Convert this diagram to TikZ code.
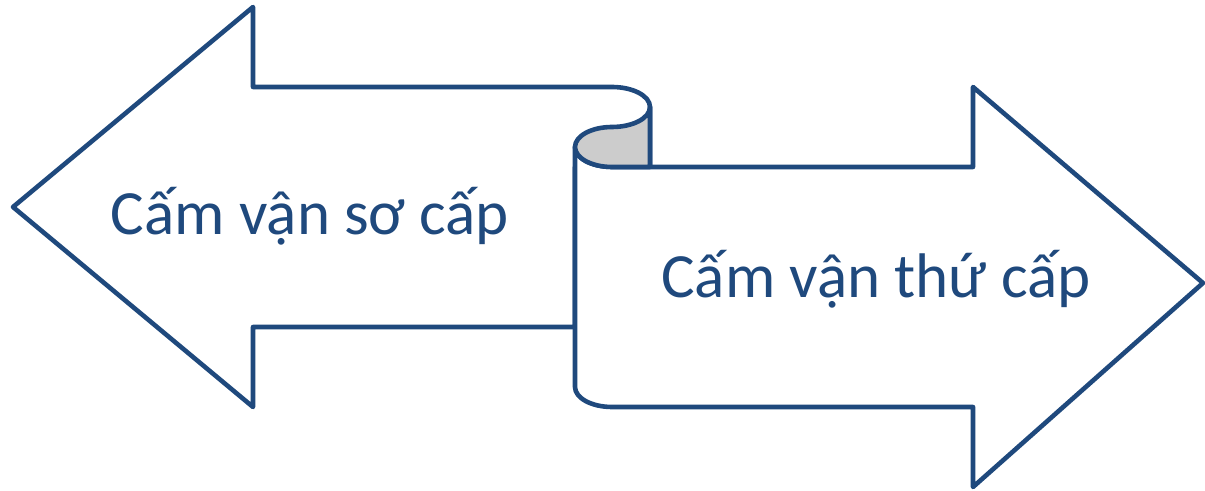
\documentclass[tikz,border=0pt]{standalone}
\usepackage{fontspec}
\setmainfont{Carlito}
\usepackage{xcolor}
\definecolor{scrollblue}{HTML}{1F497D}
\definecolor{curlgray}{HTML}{CCCCCC}
\tikzset{
    arrow-outline/.style = {draw=scrollblue, line width=2.3pt, line join=round, fill=white},
    curl-fill/.style = {draw=scrollblue, line width=2.3pt, line join=round, fill=curlgray},
    arrow-label/.style = {text=scrollblue, font=\fontsize{31.5}{37}\selectfont, anchor=base, inner sep=0pt},
}

\begin{document}
\begin{tikzpicture}[x=0.5pt, y=-0.5pt]
\useasboundingbox (0,0) rectangle (1205,491);
% left arrow, its shaft runs into the scroll
\draw[arrow-outline] (13,207) -- (253,7) -- (253,87) -- (612,87)
    arc[start angle=-90, end angle=0, x radius=38, y radius=20] -- (650,167)
    -- (575,167) -- (575,327) -- (253,327) -- (253,407) -- cycle;
% right arrow with the rolled scroll edge
\draw[arrow-outline] (575,147) -- (575,387)
    arc[start angle=180, end angle=90, x radius=37, y radius=20]
    -- (973,407) -- (973,487) -- (1203,283) -- (973,87) -- (973,167) -- (612,167)
    arc[start angle=90, end angle=180, x radius=37, y radius=20] -- cycle;
% the curl
\draw[curl-fill] (650,107) arc[start angle=0, end angle=90, x radius=38, y radius=20]
    arc[start angle=-90, end angle=-180, x radius=37, y radius=20]
    arc[start angle=180, end angle=90, x radius=37, y radius=20] -- (650,167) -- cycle;
\node[arrow-label] (primary) at (310,235) {Cấm vận sơ cấp};
\node[arrow-label] (secondary) at (876,298) {Cấm vận thứ cấp};
\end{tikzpicture}
\end{document}
